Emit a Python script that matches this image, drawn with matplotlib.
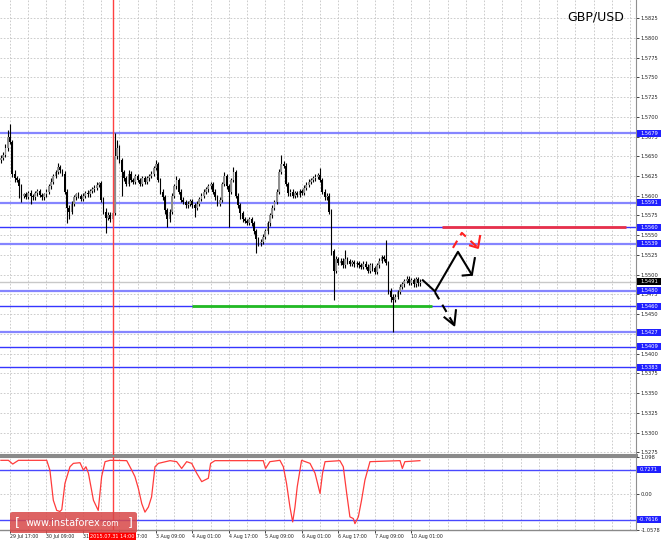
import numpy as np
import matplotlib
matplotlib.use('Agg')
import matplotlib.pyplot as plt
from matplotlib.patches import FancyBboxPatch, Rectangle
from matplotlib.transforms import blended_transform_factory

# ---------------- data (H1 GBP/USD, bars from 29 Jul 13:00) ----------------
open_first = 1.5645
close = [
    1.5648, 1.5652, 1.5660, 1.5675, 1.5668, 1.5628, 1.5622, 1.5620, 1.5612, 1.5600,
    1.5602, 1.5599, 1.5604, 1.5600, 1.5598, 1.5603, 1.5606, 1.5601, 1.5598, 1.5602,
    1.5605, 1.5612, 1.5618, 1.5625, 1.5630, 1.5636, 1.5632, 1.5628, 1.5605, 1.5585,
    1.5580, 1.5590, 1.5598, 1.5602, 1.5600, 1.5596, 1.5600, 1.5604, 1.5602, 1.5606,
    1.5608, 1.5610, 1.5614, 1.5616, 1.5595, 1.5580, 1.5572, 1.5576, 1.5570, 1.5578,
    1.5650, 1.5660, 1.5645, 1.5630, 1.5622, 1.5615, 1.5628, 1.5620, 1.5618, 1.5625,
    1.5620, 1.5615, 1.5622, 1.5618, 1.5622, 1.5625, 1.5628, 1.5635, 1.5640, 1.5620,
    1.5605, 1.5598, 1.5582, 1.5570, 1.5580, 1.5600, 1.5612, 1.5620, 1.5605, 1.5595,
    1.5592, 1.5588, 1.5590, 1.5593, 1.5588, 1.5585, 1.5590, 1.5596, 1.5600, 1.5605,
    1.5608, 1.5612, 1.5615, 1.5605, 1.5598, 1.5590, 1.5595, 1.5615, 1.5625, 1.5612,
    1.5605, 1.5620, 1.5630, 1.5600, 1.5588, 1.5578, 1.5570, 1.5568, 1.5566, 1.5570,
    1.5565, 1.5555, 1.5545, 1.5540, 1.5542, 1.5548, 1.5555, 1.5565, 1.5575, 1.5585,
    1.5592, 1.5605, 1.5630, 1.5640, 1.5638, 1.5615, 1.5603, 1.5605, 1.5600, 1.5603,
    1.5601, 1.5606, 1.5604, 1.5610, 1.5614, 1.5618, 1.5620, 1.5622, 1.5624, 1.5626,
    1.5620, 1.5605, 1.5598, 1.5600, 1.5580, 1.5530, 1.5505, 1.5520, 1.5515, 1.5518,
    1.5512, 1.5520, 1.5517, 1.5514, 1.5516, 1.5513, 1.5515, 1.5512, 1.5510, 1.5514,
    1.5510, 1.5505, 1.5512, 1.5508, 1.5504, 1.5512, 1.5518, 1.5522, 1.5520, 1.5515,
    1.5480, 1.5472, 1.5468, 1.5472, 1.5478, 1.5485, 1.5488, 1.5492, 1.5495, 1.5490,
    1.5493, 1.5488, 1.5494, 1.5489, 1.5491,
]
# upper / lower shadow length in pips
wick_up = [
    3, 4, 5, 8, 16, 2, 4, 3, 3, 3, 2, 3, 2, 3, 2, 3, 2, 3, 3, 2,
    3, 3, 4, 3, 3, 5, 3, 2, 3, 3, 3, 3, 3, 2, 3, 2, 3, 2, 3, 2,
    3, 3, 3, 2, 3, 3, 4, 3, 3, 3, 29, 10, 4, 3, 3, 3, 4, 3, 3, 3,
    3, 3, 3, 3, 3, 3, 3, 3, 5, 3, 3, 3, 3, 3, 3, 3, 3, 5, 3, 3,
    3, 3, 3, 3, 3, 3, 3, 3, 3, 3, 3, 3, 3, 3, 3, 3, 3, 3, 5, 3,
    3, 3, 6, 3, 3, 3, 3, 3, 3, 3, 3, 3, 3, 3, 3, 3, 3, 3, 3, 3,
    3, 3, 4, 12, 4, 3, 3, 3, 3, 3, 3, 3, 3, 3, 3, 3, 3, 3, 3, 3,
    9, 3, 3, 3, 3, 3, 3, 4, 3, 3, 3, 11, 3, 3, 3, 3, 3, 3, 3, 3,
    3, 3, 3, 3, 3, 3, 3, 3, 3, 24, 3, 3, 3, 3, 3, 3, 3, 3, 3, 3, 3, 3, 3, 3, 3,
]
wick_dn = [
    3, 3, 3, 3, 3, 4, 5, 3, 15, 8, 3, 3, 3, 10, 3, 3, 3, 3, 3, 3,
    3, 3, 3, 3, 3, 3, 3, 3, 3, 19, 10, 3, 3, 3, 3, 3, 3, 3, 3, 3,
    3, 3, 3, 3, 3, 3, 19, 3, 3, 3, 3, 3, 3, 30, 3, 3, 3, 3, 3, 3,
    3, 3, 3, 3, 3, 3, 3, 3, 3, 3, 3, 3, 5, 10, 3, 3, 3, 3, 3, 3,
    3, 3, 3, 3, 3, 12, 3, 3, 3, 3, 3, 3, 3, 3, 3, 3, 3, 3, 3, 3,
    45, 3, 3, 3, 3, 8, 3, 3, 3, 3, 3, 3, 17, 3, 3, 3, 3, 3, 3, 3,
    3, 3, 3, 3, 3, 3, 3, 3, 3, 3, 3, 3, 3, 3, 3, 3, 3, 3, 3, 3,
    3, 3, 3, 3, 3, 5, 37, 3, 3, 3, 3, 3, 3, 3, 3, 3, 3, 3, 3, 3,
    3, 3, 3, 3, 3, 3, 3, 3, 3, 3, 5, 6, 40, 3, 3, 3, 3, 3, 3, 3, 3, 3, 3, 3, 3,
]

levels_light = [1.5679, 1.5591, 1.5539, 1.5480, 1.5427]
levels_dark = [1.5560, 1.5460, 1.5409, 1.5383]
current_price = 1.5491
price_ticks = [1.5275, 1.5300, 1.5325, 1.5350, 1.5375, 1.5400, 1.5425, 1.5450,
               1.5475, 1.5500, 1.5525, 1.5550, 1.5575, 1.5600, 1.5625, 1.5650,
               1.5675, 1.5700, 1.5725, 1.5750, 1.5775, 1.5800, 1.5825]

xtick_bars = [4, 20, 36, 52, 68, 84, 100, 116, 132, 148, 164, 180]
xtick_labels = ["29 Jul 17:00", "30 Jul 09:00", "31 Jul 01:00", "31 Jul 17:00",
                "3 Aug 09:00", "4 Aug 01:00", "4 Aug 17:00", "5 Aug 09:00",
                "6 Aug 01:00", "6 Aug 17:00", "7 Aug 09:00", "10 Aug 01:00"]
event_bar = 49
event_label = "2015.07.31 14:00"

green_level = 1.5460
green_span = (83.8, 189.1)
red_level = 1.5560
red_span = (193.5, 274.2)

# forecast arrows (bar, price)
black_path_x = [185.1, 190.4, 200.5, 206.6]
black_path_y = [1.5493, 1.5479, 1.5529, 1.5500]
black_head_x = [202.6, 206.6, 207.9]
black_head_y = [1.5499, 1.5500, 1.5521]
dash_path_x = [190.4, 198.9]
dash_path_y = [1.5478, 1.5436]
dash_head_x = [194.6, 198.9, 199.6]
dash_head_y = [1.5446, 1.5436, 1.5455]
red_path_x = [198.3, 202.2, 209.3]
red_path_y = [1.5534, 1.5553, 1.5534]
red_head_x = [205.8, 209.3, 210.2]
red_head_y = [1.5537, 1.5534, 1.5549]

# indicator
ind_bar = [0, 3.3, 5.2, 7.7, 20.1, 21.5, 23.0, 24.5, 25.9, 26.7, 28.1, 30.3, 31.8, 34.7,
           36.2, 37.3, 38.4, 40.6, 42.7, 44.2, 45.7, 47.9, 55.2, 57.4, 58.8, 60.3, 61.8,
           63.2, 64.7, 66.1, 67.6, 69.1, 74.2, 77.1, 79.3, 81.5, 83.7, 85.9, 88.1, 89.5,
           91.0, 92.0, 93.9, 115.1, 116.1, 118.0, 122.4, 123.9, 125.3, 126.8, 128.0,
           129.0, 130.0, 131.9, 135.6, 137.8, 140.0, 141.1, 142.2, 148.7, 150.2, 151.7,
           153.1, 154.6, 155.3, 156.8, 158.2, 159.7, 161.9, 175.1, 176.1, 177.2, 183.8]
ind_val = [1.00, 1.00, 0.89, 1.00, 1.00, 0.71, -0.18, -0.48, -0.51, -0.46, 0.32, 0.81,
           0.91, 0.93, 0.71, 0.81, 0.62, -0.18, -0.48, 0.52, 0.96, 1.00, 0.99, 0.71,
           0.52, 0.17, -0.28, -0.53, -0.38, -0.08, 0.81, 0.91, 0.99, 0.96, 0.76, 0.96,
           0.91, 0.62, 0.37, 0.42, 0.47, 0.91, 0.99, 0.99, 0.76, 0.96, 1.00, 0.81, 0.32,
           -0.38, -0.82, -0.38, 0.22, 1.00, 0.91, 0.62, 0.02, 0.62, 0.96, 0.99, 0.81,
           0.02, -0.67, -0.72, -0.87, -0.67, -0.18, 0.42, 0.96, 0.99, 0.76, 0.96, 0.99]
ind_levels = [0.7271, -0.7616]
ind_top, ind_bottom = 1.098, -1.0578

# ---------------- figure ----------------
W, H = 664, 541
fig = plt.figure(figsize=(W / 100, H / 100), dpi=100, facecolor='white')
ax = fig.add_axes([0, (H - 455) / H, 636 / W, 455 / H])
ax2 = fig.add_axes([0, (H - 530) / H, 636 / W, 73 / H], sharex=ax)

xmin, xmax = -0.39, 278.6
ax.set_xlim(xmin, xmax)
ax.set_ylim(1.52718, 1.58478)
ax2.set_ylim(ind_bottom, ind_top)

grid_kw = dict(color='#c4c4c4', lw=0.6, ls=(0, (2, 2)), zorder=0)
for b in range(-4, 280, 8):
    ax.axvline(b, **grid_kw)
    ax2.axvline(b, **grid_kw)
for p in price_ticks:
    ax.axhline(p, **grid_kw)
ax2.axhline(0.0, **grid_kw)

# levels
for lv in levels_light:
    ax.axhline(lv, color='#8585ff', lw=1.6, zorder=2)
for lv in levels_dark:
    ax.axhline(lv, color='#3535ff', lw=1.0, zorder=2)
ax.axhline(current_price, color='#c8c8c8', lw=1.0, zorder=1)
ax.hlines(green_level, *green_span, color='#22bb22', lw=2.0, zorder=4)
ax.hlines(red_level, *red_span, color='#e8304a', lw=2.0, zorder=4)

# candles
c = np.array(close)
o = np.concatenate([[open_first], c[:-1]])
idx = np.arange(len(c))
hi = np.maximum(o, c) + np.array(wick_up) * 0.0001
lo = np.minimum(o, c) - np.array(wick_dn) * 0.0001
ax.vlines(idx, lo, hi, color='black', lw=0.8, zorder=5)
body_h = np.maximum(np.abs(c - o), 0.00008)
colors = np.where(c >= o, '#8e8e8e', '#000000')
ax.bar(idx, body_h, bottom=np.minimum(o, c), width=0.78, color=colors, lw=0, zorder=6)

# event line
ax.axvline(event_bar, color='#ff4040', lw=1.0, zorder=7)
ax2.axvline(event_bar, color='#ff4040', lw=1.0, zorder=7)

# arrows
ax.plot(black_path_x, black_path_y, color='black', lw=1.5, zorder=8)
ax.plot(black_head_x, black_head_y, color='black', lw=1.5, zorder=8)
ax.plot(dash_path_x, dash_path_y, color='black', lw=1.5, ls=(0, (4, 3)), zorder=8)
ax.plot(dash_head_x, dash_head_y, color='black', lw=1.5, zorder=8)
ax.plot(red_path_x, red_path_y, color='#ff2020', lw=1.5, ls=(0, (4, 3)), zorder=8)
ax.plot(red_head_x, red_head_y, color='#ff2020', lw=1.5, zorder=8)

# indicator
for lv in ind_levels:
    ax2.axhline(lv, color='#4848ff', lw=1.0, zorder=2)
ax2.plot(ind_bar, ind_val, color='#ff3b3b', lw=0.9, zorder=5)

# axes styling
for a in (ax, ax2):
    a.set_facecolor('white')
    a.spines['left'].set_visible(False)
    a.spines['top'].set_visible(False)
    a.spines['right'].set_color('#909090')
    a.spines['bottom'].set_color('#8a8a8a')
ax.spines['bottom'].set_linewidth(2.2)
ax2.spines['top'].set_visible(True)
ax2.spines['top'].set_color('#8a8a8a')
ax2.spines['top'].set_linewidth(1.5)
ax2.spines['bottom'].set_linewidth(1.0)

ax.yaxis.tick_right()
ax.set_yticks(price_ticks)
ax.set_yticklabels([f'{p:.4f}' for p in price_ticks])
ax.tick_params(axis='y', labelsize=3.7, length=2, pad=1.5, colors='#222222', width=0.6)
ax.tick_params(axis='x', bottom=False, labelbottom=False)

ax2.yaxis.tick_right()
ax2.set_yticks([ind_top, 0.0, ind_bottom])
ax2.set_yticklabels(['1.098', '0.00', '-1.0578'])
ax2.tick_params(axis='y', labelsize=3.7, length=2, pad=1.5, colors='#222222', width=0.6)
ax2.set_xticks(xtick_bars)
ax2.set_xticklabels(xtick_labels)
ax2.tick_params(axis='x', labelsize=3.4, length=2, pad=1.0, colors='#222222', width=0.6)
for lbl in ax2.get_xticklabels():
    lbl.set_ha('left')

# price label boxes
def level_box(a, y, text, fc, hdata):
    tr = blended_transform_factory(a.transAxes, a.transData)
    a.add_patch(Rectangle((1 + 1 / 636, y - hdata / 2), 24 / 636, hdata, transform=tr,
                          fc=fc, ec='none', clip_on=False, zorder=20))
    a.text(1 + 13 / 636, y, text, transform=tr, ha='center', va='center',
           fontsize=3.7, color='white', clip_on=False, zorder=21)

hp = 7 / 7900
for lv in levels_light + levels_dark:
    level_box(ax, lv, f'{lv:.4f}', '#2020ff', hp)
level_box(ax, current_price, f'{current_price:.4f}', '#000000', hp)
for lv in ind_levels:
    level_box(ax2, lv, f'{lv:.4f}', '#2020ff', 7 / 33.6)

# event label on time axis
tr2 = blended_transform_factory(ax2.transData, ax2.transAxes)
ax2.text(event_bar, -0.085, event_label, transform=tr2, ha='center', va='center',
         fontsize=3.6, color='white', clip_on=False, zorder=30,
         bbox=dict(boxstyle='square,pad=0.3', fc='#ff0000', ec='none'))

# title
fig.text(567 / W, 1 - 17 / H, 'GBP/USD', fontsize=9, color='black', ha='left', va='center')

# watermark
wm = FancyBboxPatch((10 / W, (H - 533) / H), 127 / W, 21 / H,
                    boxstyle='round,pad=0,rounding_size=0.004', transform=fig.transFigure,
                    fc='#d84848', ec='none', alpha=0.85, zorder=50)
fig.patches.append(wm)
base_y = (H - 526) / H
fig.text(15 / W, (H - 522.5) / H, '[', fontsize=9, color='white', ha='left', va='center', zorder=51)
fig.text(26 / W, base_y, 'www.instaforex', fontsize=7, color='white', ha='left', va='baseline', zorder=51)
fig.text(100 / W, base_y, '.com', fontsize=5.5, color='white', ha='left', va='baseline', zorder=51)
fig.text(128 / W, (H - 522.5) / H, ']', fontsize=9, color='white', ha='left', va='center', zorder=51)

fig.savefig('out.png', dpi=100, facecolor='white')
